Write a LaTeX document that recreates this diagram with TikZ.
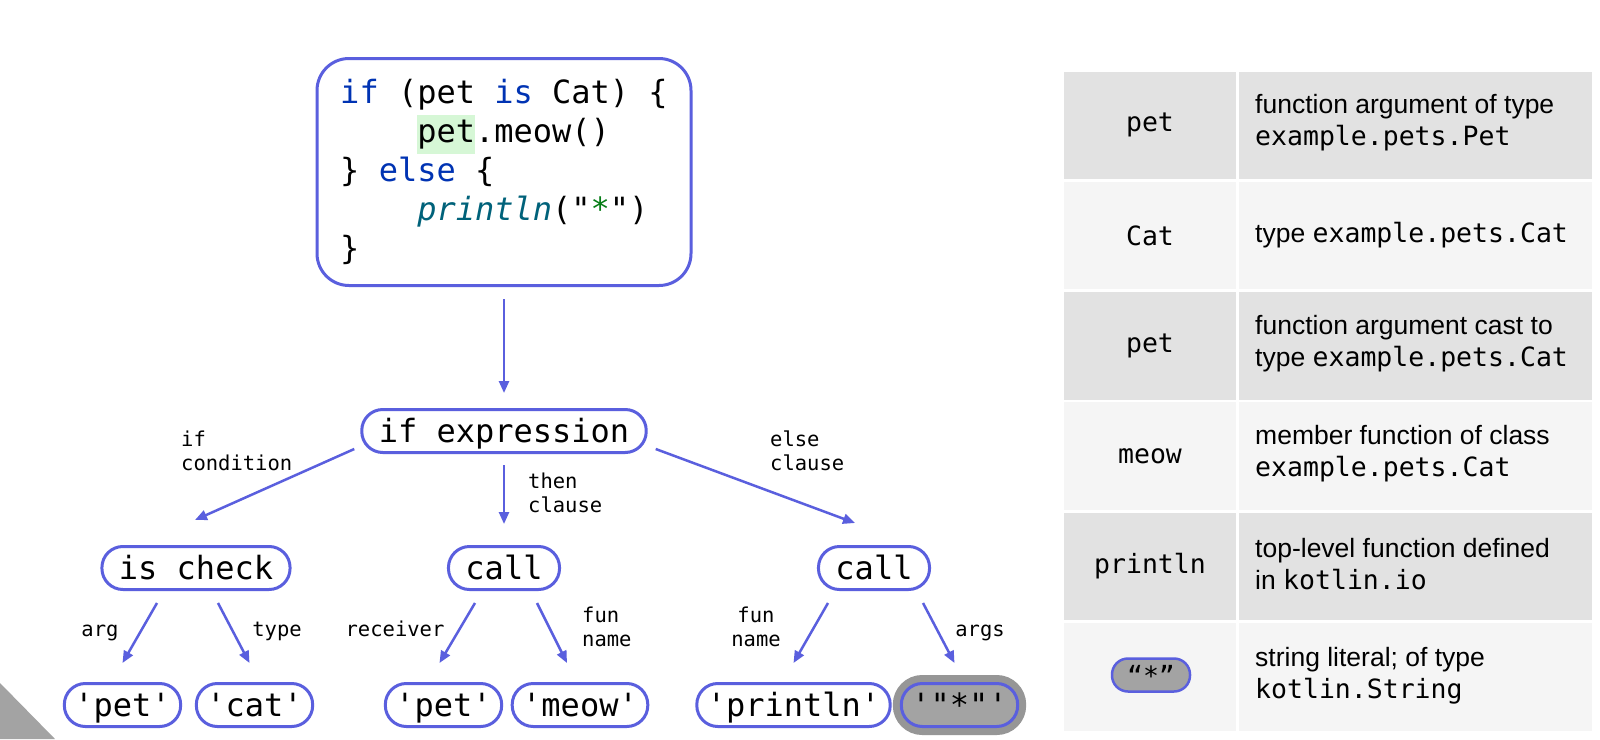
\documentclass[tikz,border=0pt]{standalone}
\usepackage{fontspec}
\setmainfont{Liberation Sans}
\setmonofont{DejaVu Sans Mono}
\usetikzlibrary{arrows.meta}
\definecolor{nodeblue}{RGB}{90,95,222}
\definecolor{kwblue}{RGB}{0,51,179}
\definecolor{fnteal}{RGB}{0,98,122}
\definecolor{strgreen}{RGB}{6,125,23}
\definecolor{hlgreen}{RGB}{214,247,214}
\definecolor{rowdark}{RGB}{226,226,226}
\definecolor{rowlight}{RGB}{245,245,245}
\definecolor{litgray}{RGB}{163,163,163}
\definecolor{halogray}{RGB}{150,150,150}
\tikzset{>={Triangle[length=12pt,width=10pt]}}
\newcommand{\hlword}[1]{{\setlength{\fboxsep}{0pt}\colorbox{hlgreen}{\strut#1}}}

\begin{document}
\begin{tikzpicture}[x=1pt,y=-1pt,
  astnode/.style={draw=nodeblue, line width=3pt, rounded corners=21pt, minimum height=43pt,
    inner xsep=17pt, inner ysep=0pt, text height=22pt, text depth=0pt,
    font=\fontsize{32}{32}\selectfont\ttfamily},
  leaf/.style={astnode, inner xsep=10pt},
  link/.style={->, draw=nodeblue, line width=2.5pt},
  lbl/.style={font=\fontsize{20.5}{24.5}\selectfont\ttfamily, align=left, inner sep=0pt},
  keycell/.style={font=\fontsize{26.5}{32}\selectfont\ttfamily},
  desc/.style={anchor=west, align=left, inner sep=0pt, font=\fontsize{26.5}{32}\selectfont}]

\useasboundingbox (0,0) rectangle (1600,739);
\fill[white] (0,0) rectangle (1600,739);
\fill[litgray] (0,683) -- (55,739) -- (0,739) -- cycle;

\node[draw=nodeblue, line width=3pt, rounded corners=32pt, minimum width=374pt, minimum height=227pt,
  align=left, font=\fontsize{32}{39}\selectfont\ttfamily] (code) at (504,172)
  {{\color{kwblue}if} (pet {\color{kwblue}is} Cat) \{\\
   \hphantom{xxxx}\hlword{pet}.meow()\\
   \} {\color{kwblue}else} \{\\
   \hphantom{xxxx}{\color{fnteal}\itshape println}("{\color{strgreen}*}")\\
   \}};

\node[astnode] (ifexpr) at (504,431) {if expression};
\node[astnode] (ischeck) at (196,568) {is check};
\node[astnode] (callM) at (504,568) {call};
\node[astnode] (callR) at (874,568) {call};

\node[leaf] (pet1) at (122.5,705) {'pet'};
\node[leaf] (cat) at (254.5,705) {'cat'};
\node[leaf] (pet2) at (443.5,705) {'pet'};
\node[leaf] (meow) at (580,705) {'meow'};
\node[leaf] (println) at (793.5,705) {'println'};
\node[leaf, fill=litgray, preaction={draw=halogray, line width=17pt}] (star) at (959.5,705) {'"*"'};

\node[lbl, anchor=west] (lifcond) at (181,451) {if\\condition};
\node[lbl, anchor=west] (lthen) at (528,493) {then\\clause};
\node[lbl, anchor=west] (lelse) at (770,451) {else\\clause};
\node[lbl, anchor=base] (larg) at (100,636) {arg};
\node[lbl, anchor=base] (ltype) at (277,636) {type};
\node[lbl, anchor=base] (lrecv) at (395,636) {receiver};
\node[lbl, anchor=west] (lfunM) at (582,627) {fun\\name};
\node[lbl, align=center] (lfunR) at (756,627) {fun\\name};
\node[lbl, anchor=base] (largs) at (980,636) {args};

\draw[link, shorten <=12pt, shorten >=15pt] (code) -- (ifexpr);
\draw[link] ([shift={(-6,-5)}]ifexpr.south west) -- ([shift={(-1,-25)}]ischeck.north);
\draw[link, shorten <=11pt, shorten >=21pt] (ifexpr) -- (callM);
\draw[link] ([shift={(8,-5)}]ifexpr.south east) -- ([shift={(-19,-22)}]callR.north);

\draw[link] ([shift={(-39,12)}]ischeck.south) -- ([shift={(0,-19)}]pet1.north);
\draw[link] ([shift={(22,12)}]ischeck.south) -- ([shift={(-5,-19)}]cat.north);
\draw[link] ([shift={(-29,12)}]callM.south) -- ([shift={(-4,-19)}]pet2.north);
\draw[link] ([shift={(33,12)}]callM.south) -- ([shift={(-13,-19)}]meow.north);
\draw[link] ([shift={(-46,12)}]callR.south) -- ([shift={(0,-19)}]println.north);
\draw[link] ([shift={(49,12)}]callR.south) -- ([shift={(-5,-19)}]star.north);

\foreach \i/\shade in {0/rowdark,1/rowlight,2/rowdark,3/rowlight,4/rowdark,5/rowlight} {
  \fill[\shade] (1064,71.5+110.33*\i) rectangle (1236,68.8+110.33*\i+110.33);
  \fill[\shade] (1239,71.5+110.33*\i) rectangle (1592,68.8+110.33*\i+110.33);
}

\node[keycell] (key1) at (1150,125) {pet};
\node[keycell] (key2) at (1150,235.5) {Cat};
\node[keycell] (key3) at (1150,346) {pet};
\node[keycell] (key4) at (1150,456) {meow};
\node[keycell] (key5) at (1150,566.5) {println};
\node[keycell, draw=nodeblue, line width=2.5pt, fill=litgray, rounded corners=16pt,
  minimum width=78pt, minimum height=33pt, inner sep=0pt] (key6) at (1151,675) {“*”};

\node[desc] (desc1) at (1255,123) {function argument of type\\\texttt{example.pets.Pet}};
\node[desc] (desc2) at (1255,235.5) {type \texttt{example.pets.Cat}};
\node[desc] (desc3) at (1255,344) {function argument cast to\\type \texttt{example.pets.Cat}};
\node[desc] (desc4) at (1255,454) {member function of class\\\texttt{example.pets.Cat}};
\node[desc] (desc5) at (1255,564.5) {top-level function defined\\in \texttt{kotlin.io}};
\node[desc] (desc6) at (1255,676) {string literal; of type\\\texttt{kotlin.String}};
\end{tikzpicture}
\end{document}
